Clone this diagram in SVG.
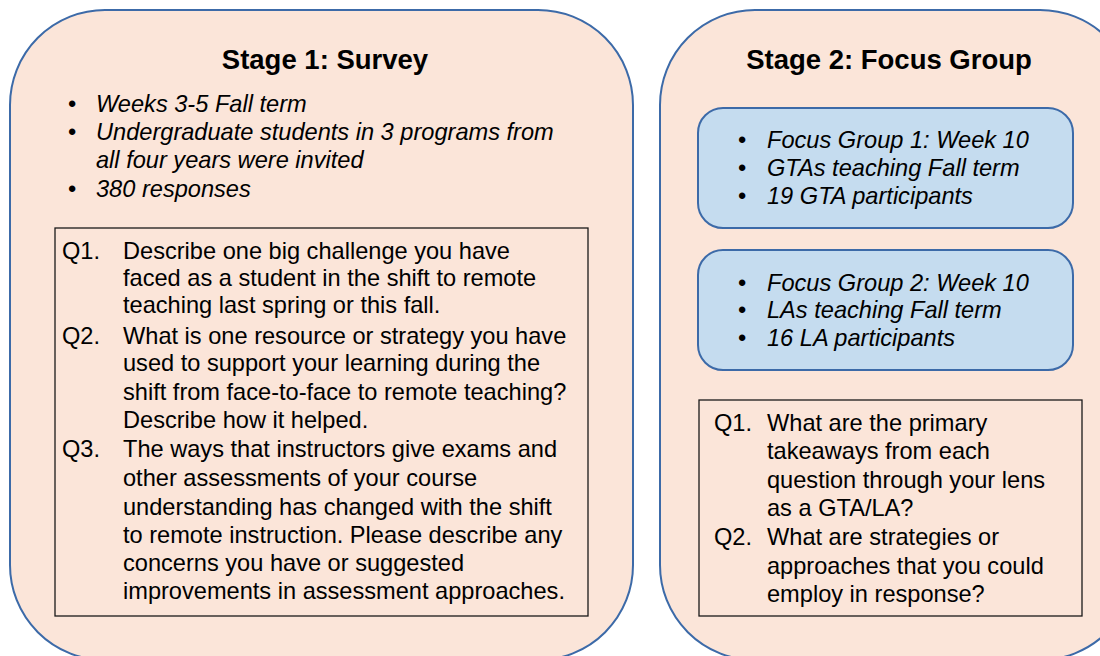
<svg xmlns="http://www.w3.org/2000/svg" width="1100" height="656" viewBox="0 0 1100 656">
  <style>
    .stage { fill: #FBE5D9; stroke: #3C6AA8; stroke-width: 2; }
    .group { fill: #C5DCEF; stroke: #3C6AA8; stroke-width: 2; }
    .qbox { fill: none; stroke: #1a1a1a; stroke-width: 1.3; }
    .title { font-family: "Liberation Sans", Arial, sans-serif; font-weight: bold; font-size: 27.5px; fill: #000; text-anchor: middle; }
    .bul { font-family: "Liberation Sans", Arial, sans-serif; font-style: italic; font-size: 23.6px; fill: #000; }
    .dot { font-family: "Liberation Sans", Arial, sans-serif; font-size: 23.6px; fill: #000; }
    .q { font-family: "Liberation Sans", Arial, sans-serif; font-size: 23.6px; fill: #000; }
  </style>
  <rect width="1100" height="656" fill="#FFFFFF"/>

  <!-- Stage 1 panel -->
  <g id="stage1">
    <rect class="stage" x="10" y="10" width="623" height="650" rx="95" ry="95"/>
    <text class="title" x="325" y="69">Stage 1: Survey</text>
    <text class="dot" x="68" y="112">•</text>
    <text class="bul" x="96" y="112">Weeks 3-5 Fall term</text>
    <text class="dot" x="68" y="140">•</text>
    <text class="bul" x="96" y="140">Undergraduate students in 3 programs from</text>
    <text class="bul" x="96" y="168">all four years were invited</text>
    <text class="dot" x="68" y="197">•</text>
    <text class="bul" x="96" y="197">380 responses</text>
  </g>

  <!-- Stage 1 survey questions -->
  <g id="survey-questions">
    <rect class="qbox" x="55" y="228" width="533" height="388"/>
    <text class="q" x="62" y="259">Q1.</text>
    <text class="q" x="123" y="259">Describe one big challenge you have</text>
    <text class="q" x="123" y="286">faced as a student in the shift to remote</text>
    <text class="q" x="123" y="313">teaching last spring or this fall.</text>
    <text class="q" x="62" y="344">Q2.</text>
    <text class="q" x="123" y="344">What is one resource or strategy you have</text>
    <text class="q" x="123" y="371">used to support your learning during the</text>
    <text class="q" x="123" y="400">shift from face-to-face to remote teaching?</text>
    <text class="q" x="123" y="428">Describe how it helped.</text>
    <text class="q" x="62" y="457">Q3.</text>
    <text class="q" x="123" y="457">The ways that instructors give exams and</text>
    <text class="q" x="123" y="486">other assessments of your course</text>
    <text class="q" x="123" y="515">understanding has changed with the shift</text>
    <text class="q" x="123" y="543">to remote instruction. Please describe any</text>
    <text class="q" x="123" y="571">concerns you have or suggested</text>
    <text class="q" x="123" y="599">improvements in assessment approaches.</text>
  </g>

  <!-- Stage 2 panel -->
  <g id="stage2">
    <rect class="stage" x="660" y="10" width="475" height="650" rx="95" ry="95"/>
    <text class="title" x="889" y="69">Stage 2: Focus Group</text>
  </g>

  <!-- Focus group 1 -->
  <g id="focus-group-1">
    <rect class="group" x="698" y="108" width="375" height="120" rx="25" ry="25"/>
    <text class="dot" x="738" y="148">•</text>
    <text class="bul" x="767" y="148">Focus Group 1: Week 10</text>
    <text class="dot" x="738" y="176">•</text>
    <text class="bul" x="767" y="176">GTAs teaching Fall term</text>
    <text class="dot" x="738" y="204">•</text>
    <text class="bul" x="767" y="204">19 GTA participants</text>
  </g>

  <!-- Focus group 2 -->
  <g id="focus-group-2">
    <rect class="group" x="698" y="250" width="375" height="120" rx="25" ry="25"/>
    <text class="dot" x="738" y="291">•</text>
    <text class="bul" x="767" y="291">Focus Group 2: Week 10</text>
    <text class="dot" x="738" y="318">•</text>
    <text class="bul" x="767" y="318">LAs teaching Fall term</text>
    <text class="dot" x="738" y="346">•</text>
    <text class="bul" x="767" y="346">16 LA participants</text>
  </g>

  <!-- Focus group questions -->
  <g id="focus-questions">
    <rect class="qbox" x="699" y="400" width="383" height="216"/>
    <text class="q" x="714" y="431">Q1.</text>
    <text class="q" x="767" y="431">What are the primary</text>
    <text class="q" x="767" y="459">takeaways from each</text>
    <text class="q" x="767" y="488">question through your lens</text>
    <text class="q" x="767" y="516">as a GTA/LA?</text>
    <text class="q" x="714" y="545">Q2.</text>
    <text class="q" x="767" y="545">What are strategies or</text>
    <text class="q" x="767" y="574">approaches that you could</text>
    <text class="q" x="767" y="602">employ in response?</text>
  </g>

  <!-- no connectors in this figure -->
  <g id="connectors"/>
</svg>
